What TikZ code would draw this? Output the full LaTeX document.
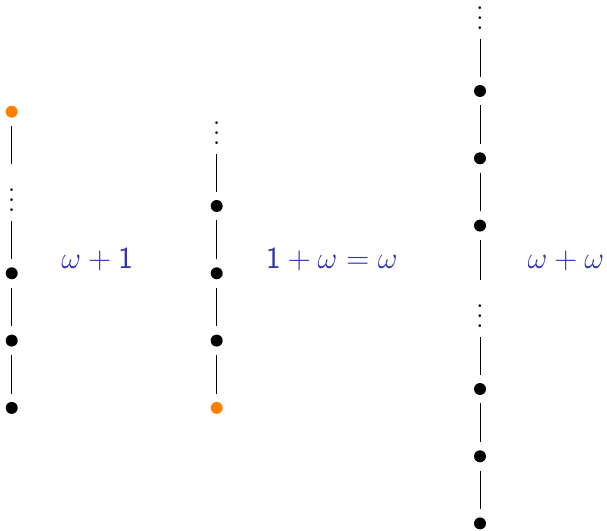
\documentclass[tikz,border=0pt]{standalone}
\usepackage{xcolor}
\definecolor{labelblue}{rgb}{0.2,0.2,0.7}
\definecolor{dotorange}{RGB}{255,128,0}
\begin{document}
\begin{tikzpicture}[x=0.392pt,y=-0.392pt,
  dotnode/.style={circle,fill=black,inner sep=0pt,minimum size=4.7pt,outer sep=3.25pt},
  orangedot/.style={dotnode,fill=dotorange},
  vdotsnode/.style={anchor=base,inner sep=0.3333em,outer sep=0.2pt},
  link/.style={draw=black,line width=0.4pt},
  ordlabel/.style={text=labelblue,font=\fontsize{11.6}{14}\selectfont,anchor=base}]
\useasboundingbox (0,0) rectangle (607,530);

% left chain: omega + 1
\node[orangedot] (L0) at (11.7,111.7) {};
\node[vdotsnode] (Lv) at (11.7,211.6) {$\vdots$};
\node[dotnode] (L1) at (11.7,273.3) {};
\node[dotnode] (L2) at (11.7,340.6) {};
\node[dotnode] (L3) at (11.7,407.9) {};
\draw[link] (L0) -- (Lv);
\draw[link] (Lv) -- (L1);
\draw[link] (L1) -- (L2);
\draw[link] (L2) -- (L3);
\node[ordlabel] (T1) at (97.3,268.3) {$\omega+\mathsf{1}$};

% middle chain: 1 + omega = omega
\node[vdotsnode] (Mv) at (216.7,144.9) {$\vdots$};
\node[dotnode] (M1) at (216.7,206) {};
\node[dotnode] (M2) at (216.7,273.3) {};
\node[dotnode] (M3) at (216.7,340.6) {};
\node[orangedot] (M4) at (216.7,407.9) {};
\draw[link] (Mv) -- (M1);
\draw[link] (M1) -- (M2);
\draw[link] (M2) -- (M3);
\draw[link] (M3) -- (M4);
\node[ordlabel] (T2) at (331.7,268.3) {$\mathsf{1}+\omega=\omega$};

% right chain: omega + omega
\node[vdotsnode] (Rv1) at (480,29.6) {$\vdots$};
\node[dotnode] (R1) at (480,91) {};
\node[dotnode] (R2) at (480,158.3) {};
\node[dotnode] (R3) at (480,225.6) {};
\node[vdotsnode] (Rv2) at (480,327.6) {$\vdots$};
\node[dotnode] (R4) at (480,389) {};
\node[dotnode] (R5) at (480,456.3) {};
\node[dotnode] (R6) at (480,523.4) {};
\draw[link] (Rv1) -- (R1);
\draw[link] (R1) -- (R2);
\draw[link] (R2) -- (R3);
\draw[link] (R3) -- (Rv2);
\draw[link] (Rv2) -- (R4);
\draw[link] (R4) -- (R5);
\draw[link] (R5) -- (R6);
\node[ordlabel] (T3) at (565.8,268.3) {$\omega+\omega$};
\end{tikzpicture}
\end{document}
